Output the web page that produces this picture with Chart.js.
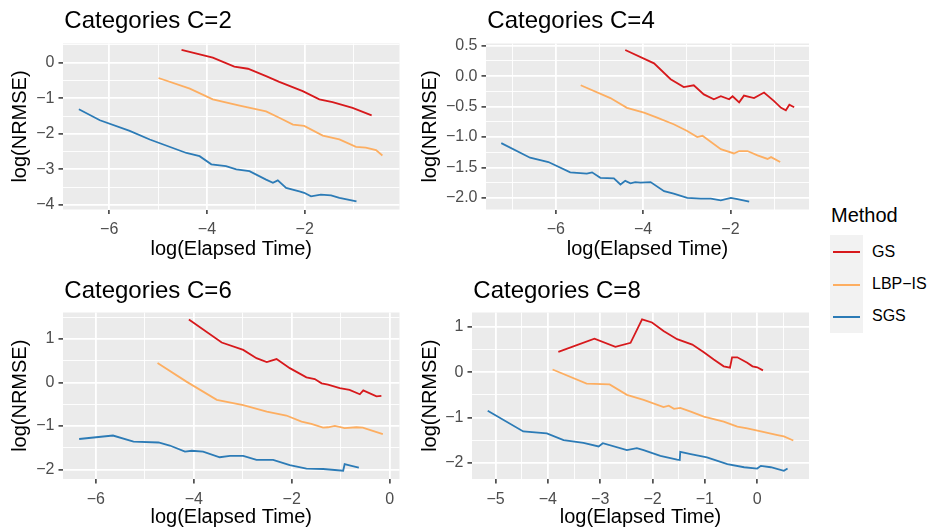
<!DOCTYPE html>
<html>
<head>
<meta charset="utf-8">
<script src="https://cdn.jsdelivr.net/npm/chart.js@4.4.1/dist/chart.umd.min.js"></script>
<style>
  body { margin: 0; background: #fff; }
  #wrap { position: relative; width: 931px; height: 527px; font-family: "Liberation Sans", Arial, sans-serif; }
  #wrap canvas { position: absolute; }
  .lg { position: absolute; white-space: nowrap; color: #000; }
  .key { position: absolute; left: 830px; width: 33px; height: 33px; background: #F2F2F2; }
  .key i { position: absolute; left: 3px; top: 15.5px; width: 27px; height: 2px; }
</style>
</head>
<body>
<div id="wrap">
  <canvas id="c2" width="405" height="263" style="left:0;top:0"></canvas>
  <canvas id="c4" width="405" height="263" style="left:410px;top:0"></canvas>
  <canvas id="c6" width="405" height="263" style="left:0;top:264px"></canvas>
  <canvas id="c8" width="405" height="263" style="left:410px;top:264px"></canvas>

  <div class="lg" style="left:831px;top:205px;font-size:20px;line-height:20px">Method</div>
  <div class="key" style="top:235px"><i style="background:#D7191C"></i></div>
  <div class="key" style="top:268px"><i style="background:#FDAE61"></i></div>
  <div class="key" style="top:300px"><i style="background:#2C7BB6"></i></div>
  <div class="lg" style="left:872px;top:244px;font-size:16px;line-height:16px">GS</div>
  <div class="lg" style="left:872px;top:276px;font-size:16px;line-height:16px">LBP−IS</div>
  <div class="lg" style="left:872px;top:308px;font-size:16px;line-height:16px">SGS</div>
</div>
<script>
// ---- data: log(Elapsed Time) vs log(NRMSE) ----
var methods = ['GS', 'LBP-IS', 'SGS'];
var methodColors = ['#D7191C', '#FDAE61', '#2C7BB6'];

// C=2
var c2GsX  = [-4.52, -3.88, -3.44, -3.16, -2.79, -2.52, -2.04, -1.70, -1.43, -1.02, -0.63];
var c2GsY  = [0.36, 0.14, -0.11, -0.17, -0.38, -0.54, -0.80, -1.03, -1.11, -1.27, -1.48];
var c2LbpX = [-4.99, -4.35, -3.88, -3.33, -2.79, -2.52, -2.24, -2.01, -1.63, -1.29, -0.95, -0.75, -0.54, -0.41];
var c2LbpY = [-0.43, -0.73, -1.03, -1.21, -1.37, -1.55, -1.74, -1.78, -2.05, -2.16, -2.37, -2.39, -2.46, -2.61];
var c2SgsX = [-6.62, -6.19, -5.58, -5.17, -4.42, -4.15, -3.91, -3.61, -3.40, -3.13, -2.79, -2.65, -2.55, -2.38, -2.11, -2.01, -1.87, -1.67, -1.46, -1.29, -0.94];
var c2SgsY = [-1.31, -1.62, -1.92, -2.16, -2.54, -2.63, -2.86, -2.91, -3.00, -3.05, -3.29, -3.38, -3.31, -3.52, -3.62, -3.66, -3.76, -3.71, -3.73, -3.80, -3.90];

// C=4
var c4GsX  = [-4.41, -3.75, -3.37, -3.07, -2.84, -2.61, -2.38, -2.22, -2.03, -1.95, -1.80, -1.69, -1.46, -1.23, -1.00, -0.84, -0.73, -0.65, -0.54];
var c4GsY  = [0.43, 0.21, -0.05, -0.18, -0.15, -0.30, -0.38, -0.33, -0.38, -0.33, -0.43, -0.32, -0.36, -0.27, -0.41, -0.52, -0.56, -0.47, -0.51];
var c4LbpX = [-5.43, -4.75, -4.37, -3.98, -3.68, -3.30, -2.99, -2.76, -2.64, -2.22, -1.92, -1.80, -1.61, -1.38, -1.15, -1.07, -0.86];
var c4LbpY = [-0.15, -0.36, -0.52, -0.60, -0.68, -0.79, -0.90, -1.00, -0.98, -1.20, -1.27, -1.23, -1.23, -1.30, -1.36, -1.33, -1.41];
var c4SgsX = [-7.25, -6.59, -6.17, -5.67, -5.29, -5.17, -4.98, -4.67, -4.52, -4.41, -4.29, -4.18, -4.06, -3.83, -3.52, -3.30, -2.99, -2.68, -2.45, -2.22, -1.99, -1.84, -1.57];
var c4SgsY = [-1.10, -1.34, -1.41, -1.58, -1.60, -1.58, -1.67, -1.68, -1.78, -1.72, -1.76, -1.74, -1.75, -1.74, -1.89, -1.93, -2.00, -2.01, -2.01, -2.04, -2.00, -2.02, -2.06];

// C=6
var c6GsX  = [-4.10, -3.43, -2.99, -2.72, -2.51, -2.31, -2.04, -1.70, -1.53, -1.39, -1.26, -1.02, -0.82, -0.61, -0.54, -0.27, -0.17];
var c6GsY  = [1.45, 0.92, 0.75, 0.56, 0.47, 0.54, 0.33, 0.12, 0.08, -0.02, -0.05, -0.13, -0.17, -0.27, -0.18, -0.32, -0.31];
var c6LbpX = [-4.74, -4.15, -3.53, -2.99, -2.51, -2.11, -1.80, -1.60, -1.36, -1.26, -1.12, -0.92, -0.68, -0.55, -0.14];
var c6LbpY = [0.45, 0.02, -0.40, -0.52, -0.67, -0.76, -0.90, -0.95, -1.04, -1.03, -1.00, -1.05, -1.03, -1.04, -1.19];
var c6SgsX = [-6.34, -5.65, -5.23, -4.72, -4.49, -4.18, -4.04, -3.81, -3.47, -3.26, -2.99, -2.72, -2.38, -2.04, -1.70, -1.36, -0.95, -0.92, -0.78, -0.63];
var c6SgsY = [-1.30, -1.22, -1.36, -1.38, -1.45, -1.59, -1.57, -1.59, -1.72, -1.69, -1.69, -1.78, -1.78, -1.90, -1.98, -1.99, -2.03, -1.88, -1.92, -1.96];

// C=8
var c8GsX  = [-3.80, -3.11, -2.71, -2.42, -2.20, -2.01, -1.79, -1.53, -1.24, -1.02, -0.83, -0.64, -0.52, -0.48, -0.38, -0.19, -0.09, 0.00, 0.11];
var c8GsY  = [0.45, 0.74, 0.56, 0.65, 1.17, 1.10, 0.91, 0.73, 0.61, 0.44, 0.28, 0.13, 0.10, 0.33, 0.33, 0.21, 0.13, 0.11, 0.04];
var c8LbpX = [-3.91, -3.26, -2.82, -2.49, -2.17, -1.79, -1.69, -1.59, -1.47, -1.27, -1.02, -0.64, -0.38, -0.19, 0.07, 0.39, 0.51, 0.69];
var c8LbpY = [0.06, -0.25, -0.27, -0.50, -0.61, -0.77, -0.74, -0.81, -0.79, -0.87, -0.98, -1.09, -1.20, -1.24, -1.31, -1.39, -1.42, -1.51];
var c8SgsX = [-5.15, -4.47, -4.02, -3.70, -3.32, -3.03, -2.95, -2.49, -2.30, -2.17, -1.85, -1.53, -1.48, -1.47, -1.27, -0.96, -0.57, -0.25, 0.00, 0.07, 0.26, 0.51, 0.58];
var c8SgsY = [-0.85, -1.31, -1.35, -1.50, -1.56, -1.64, -1.57, -1.72, -1.68, -1.72, -1.85, -1.93, -1.94, -1.76, -1.81, -1.88, -2.03, -2.10, -2.13, -2.07, -2.10, -2.18, -2.13];

// tick labels (major) and minor grid positions
var c2XTicks = [-6, -4, -2], c2XMinor = [-5, -3, -1];
var c2YTicks = [0, -1, -2, -3, -4], c2YMinor = [0.5, -0.5, -1.5, -2.5, -3.5];
var c4XTicks = [-6, -4, -2], c4XMinor = [-7, -5, -3, -1];
var c4YTicks = [0.5, 0, -0.5, -1, -1.5, -2], c4YMinor = [0.25, -0.25, -0.75, -1.25, -1.75];
var c6XTicks = [-6, -4, -2, 0], c6XMinor = [-5, -3, -1];
var c6YTicks = [1, 0, -1, -2], c6YMinor = [1.5, 0.5, -0.5, -1.5];
var c8XTicks = [-5, -4, -3, -2, -1, 0], c8XMinor = [-4.5, -3.5, -2.5, -1.5, -0.5, 0.5];
var c8YTicks = [1, 0, -1, -2], c8YMinor = [0.5, -0.5, -1.5];

Chart.defaults.font.family = '"Liberation Sans", Arial, sans-serif';

function pts(xs, ys) {
  return xs.map(function(x, i) { return {x: x, y: ys[i]}; });
}

function buildTicks(major, minor) {
  var t = major.map(function(v) { return {value: v, minor: false}; })
    .concat(minor.map(function(v) { return {value: v, minor: true}; }));
  t.sort(function(a, b) { return a.value - b.value; });
  return t;
}

function fmt(v, dec) {
  var s = Math.abs(v).toFixed(dec);
  return (v < 0 ? '\u2212' : '') + s;
}

// grey panel + panel title
var panelPlugin = {
  id: 'panel',
  beforeDraw: function(chart) {
    var a = chart.chartArea, ctx = chart.ctx;
    ctx.save();
    ctx.fillStyle = '#EBEBEB';
    ctx.fillRect(a.left, a.top, a.right - a.left, a.bottom - a.top);
    ctx.restore();
  },
  afterDraw: function(chart) {
    var o = chart.options.plugins.panel, ctx = chart.ctx;
    ctx.save();
    ctx.fillStyle = '#000';
    ctx.font = '24px "Liberation Sans", Arial, sans-serif';
    ctx.textBaseline = 'alphabetic';
    ctx.fillText(o.text, chart.chartArea.left + 1.3, o.baseline);
    ctx.restore();
  }
};

function axis(min, max, major, minor, dec, fitFn, title, titlePad, tickPad) {
  return {
    type: 'linear', min: min, max: max,
    afterBuildTicks: function(s) { s.ticks = buildTicks(major, minor); },
    afterFit: fitFn,
    ticks: {
      autoSkip: false, maxRotation: 0, padding: tickPad, color: '#4D4D4D', font: {size: 16},
      callback: function(v, i, t) { return t[i].minor ? '' : fmt(v, dec); }
    },
    grid: {
      color: '#FFFFFF',
      lineWidth: function(c) { return c.tick && c.tick.minor ? 0.9 : 1.8; },
      drawTicks: true, tickLength: 4.5, tickWidth: 1.5,
      tickColor: function(c) { return c.tick && c.tick.minor ? 'rgba(0,0,0,0)' : '#333333'; }
    },
    border: {display: false},
    title: {display: true, text: title, color: '#000', font: {size: 20, lineHeight: 1}, padding: titlePad}
  };
}

function makePanel(id, title, titleBase, area, xr, yr, series) {
  var W = 405, H = 263;
  var ds = series.map(function(s, k) {
    return {
      label: methods[k], data: pts(s[0], s[1]),
      borderColor: methodColors[k], borderWidth: 1.8, pointRadius: 0, tension: 0, fill: false
    };
  });
  new Chart(document.getElementById(id), {
    type: 'line',
    data: {datasets: ds},
    plugins: [panelPlugin],
    options: {
      responsive: false, animation: false,
      layout: {padding: {top: area.top, right: W - area.right, left: 0, bottom: 0}},
      plugins: {legend: {display: false}, tooltip: {enabled: false}, panel: {text: title, baseline: titleBase}},
      scales: {
        x: axis(xr[0], xr[1], xr[2], xr[3], 0,
          function(s) { s.height = H - area.bottom; },
          'log(Elapsed Time)', {top: 0, bottom: area.xTitlePad}, 6),
        y: axis(yr[0], yr[1], yr[2], yr[3], yr[4],
          function(s) { s.width = area.left; },
          'log(NRMSE)', {top: 10, bottom: 0}, 4)
      }
    }
  });
}

makePanel('c2', 'Categories C=2', 28, {left: 63, top: 43.5, right: 399.5, bottom: 209.5, xTitlePad: 4},
  [-6.945, -0.06, c2XTicks, c2XMinor], [-4.13, 0.54, c2YTicks, c2YMinor, 0],
  [[c2GsX, c2GsY], [c2LbpX, c2LbpY], [c2SgsX, c2SgsY]]);
makePanel('c4', 'Categories C=4', 28, {left: 76, top: 43.5, right: 399, bottom: 209.5, xTitlePad: 4},
  [-7.60, -0.20, c4XTicks, c4XMinor], [-2.19, 0.536, c4YTicks, c4YMinor, 1],
  [[c4GsX, c4GsY], [c4LbpX, c4LbpY], [c4SgsX, c4SgsY]]);
makePanel('c6', 'Categories C=6', 34.3, {left: 63, top: 48.5, right: 399.5, bottom: 215, xTitlePad: 0},
  [-6.67, 0.20, c6XTicks, c6XMinor], [-2.22, 1.61, c6YTicks, c6YMinor, 0],
  [[c6GsX, c6GsY], [c6LbpX, c6LbpY], [c6SgsX, c6SgsY]]);
makePanel('c8', 'Categories C=8', 34.3, {left: 62, top: 48.5, right: 399, bottom: 215, xTitlePad: 0},
  [-5.45, 0.99, c8XTicks, c8XMinor], [-2.36, 1.32, c8YTicks, c8YMinor, 0],
  [[c8GsX, c8GsY], [c8LbpX, c8LbpY], [c8SgsX, c8SgsY]]);
</script>
</body>
</html>
